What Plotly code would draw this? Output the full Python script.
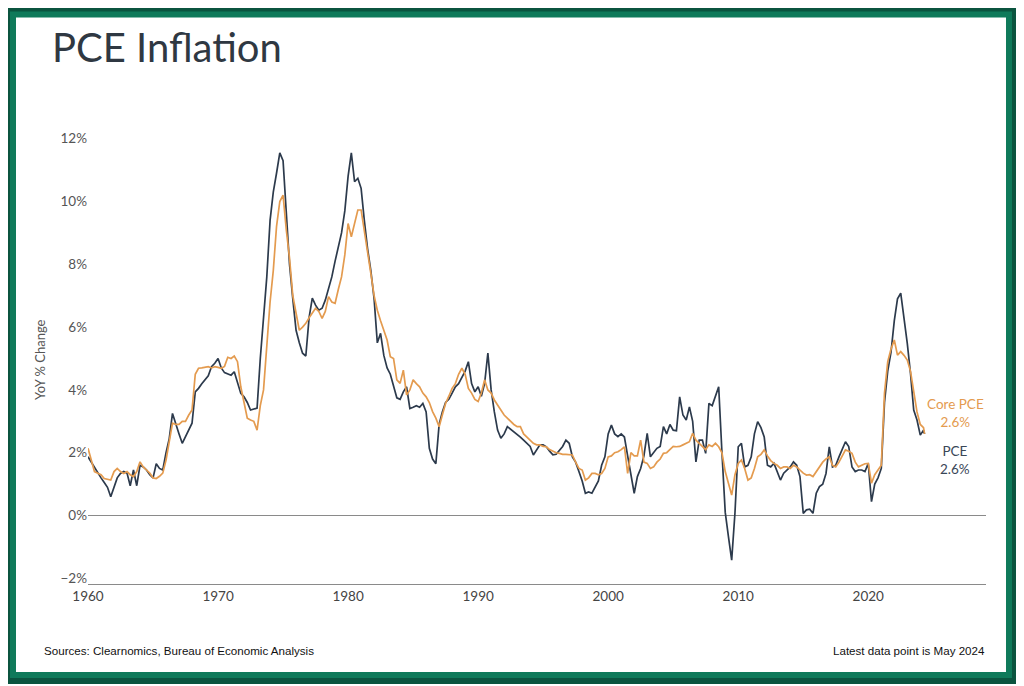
"""PCE vs core PCE inflation, year-over-year, 1960 to May 2024."""

import pandas as pd
import plotly.graph_objects as go

# Quarterly readings (Jan/Apr/Jul/Oct), last value = May 2024
pce = [
    1.87, 1.7, 1.5, 1.35,     # 1960
    1.2, 1.05, 0.9, 0.6,      # 1961
    0.9, 1.2, 1.34, 1.4,      # 1962
    1.35, 0.95, 1.45, 0.95,   # 1963
    1.6, 1.55, 1.45, 1.3,     # 1964
    1.2, 1.65, 1.5, 1.45,     # 1965
    2.0, 2.45, 3.25, 2.9,     # 1966
    2.6, 2.3, 2.5, 2.7,       # 1967
    2.94, 3.94, 4.05, 4.2,    # 1968
    4.32, 4.45, 4.74, 4.85,   # 1969
    5.0, 4.7, 4.55, 4.5,      # 1970
    4.47, 4.58, 4.2, 3.89,    # 1971
    3.78, 3.6, 3.36, 3.4,     # 1972
    3.42, 5.0, 6.2, 7.6,      # 1973
    9.4, 10.3, 10.9, 11.55,   # 1974
    11.3, 9.5, 8.0, 6.9,      # 1975
    5.9, 5.5, 5.17, 5.08,     # 1976
    6.3, 6.92, 6.7, 6.54,     # 1977
    6.6, 6.86, 7.2, 7.6,      # 1978
    8.1, 8.5, 9.0, 9.7,       # 1979
    10.8, 11.55, 10.63, 10.74,  # 1980
    10.42, 9.4, 8.5, 7.8,     # 1981
    6.9, 5.5, 5.8, 5.1,       # 1982
    4.7, 4.5, 4.1, 3.75,      # 1983
    3.7, 3.94, 4.1, 3.41,     # 1984
    3.45, 3.5, 3.45, 3.57,    # 1985
    3.3, 2.14, 1.8, 1.65,     # 1986
    2.9, 3.3, 3.6, 3.7,       # 1987
    3.9, 4.1, 4.2, 4.4,       # 1988
    4.6, 4.9, 4.2, 3.94,      # 1989
    4.1, 3.8, 4.2, 5.17,      # 1990
    4.0, 3.3, 2.72, 2.46,     # 1991
    2.6, 2.83, 2.75, 2.67,    # 1992
    2.6, 2.5, 2.4, 2.3,       # 1993
    2.2, 1.93, 2.1, 2.25,     # 1994
    2.25, 2.19, 2.05, 1.93,   # 1995
    1.95, 2.09, 2.2, 2.4,     # 1996
    2.3, 1.87, 1.7, 1.4,      # 1997
    1.1, 0.71, 0.75, 0.71,    # 1998
    0.9, 1.1, 1.6, 1.87,      # 1999
    2.6, 2.88, 2.6, 2.51,     # 2000
    2.6, 2.5, 1.9, 1.3,       # 2001
    0.71, 1.24, 1.5, 1.9,     # 2002
    2.62, 1.87, 2.0, 2.14,    # 2003
    2.2, 2.83, 2.6, 2.9,      # 2004
    2.72, 2.7, 3.78, 3.2,     # 2005
    3.04, 3.46, 3.0, 1.71,    # 2006
    2.4, 2.4, 1.98, 3.57,     # 2007
    3.5, 3.8, 4.1, 2.0,       # 2008
    0.1, -0.67, -1.42, 0.08,  # 2009
    2.19, 2.3, 1.55, 1.6,     # 2010
    1.87, 2.6, 2.99, 2.8,     # 2011
    2.5, 1.6, 1.55, 1.66,     # 2012
    1.4, 1.13, 1.35, 1.45,    # 2013
    1.55, 1.71, 1.6, 1.24,    # 2014
    0.07, 0.18, 0.2, 0.07,    # 2015
    0.71, 0.92, 1.0, 1.34,    # 2016
    2.19, 1.55, 1.6, 1.87,    # 2017
    2.1, 2.35, 2.2, 1.55,     # 2018
    1.4, 1.45, 1.45, 1.4,     # 2019
    1.66, 0.44, 1.0, 1.2,     # 2020
    1.5, 3.6, 4.6, 5.2,       # 2021
    6.2, 6.9, 7.08, 6.3,      # 2022
    5.48, 4.53, 3.36, 3.04,   # 2023
    2.56, 2.72, 2.6,          # 2024 (Jan, Apr, May)
]

core_pce = [
    2.14, 1.8, 1.4, 1.35,     # 1960
    1.3, 1.18, 1.15, 1.13,    # 1961
    1.4, 1.5, 1.4, 1.34,      # 1962
    1.4, 1.3, 1.24, 1.4,      # 1963
    1.71, 1.55, 1.45, 1.35,   # 1964
    1.2, 1.18, 1.25, 1.35,    # 1965
    1.77, 2.3, 2.94, 2.9,     # 1966
    2.9, 3.0, 3.0, 3.2,       # 1967
    3.36, 4.5, 4.69, 4.7,     # 1968
    4.72, 4.74, 4.7, 4.74,    # 1969
    4.72, 4.69, 4.75, 5.04,   # 1970
    5.0, 5.08, 4.9, 4.1,      # 1971
    3.6, 3.1, 3.04, 3.0,      # 1972
    2.72, 3.5, 4.0, 5.4,      # 1973
    6.8, 7.8, 9.2, 10.0,      # 1974
    10.2, 9.1, 8.2, 7.0,      # 1975
    6.4, 5.9, 6.0, 6.12,      # 1976
    6.3, 6.44, 6.6, 6.5,      # 1977
    6.28, 6.5, 6.97, 6.8,     # 1978
    6.76, 7.2, 7.6, 8.3,      # 1979
    9.3, 8.88, 9.3, 9.73,     # 1980
    9.73, 9.1, 8.4, 7.71,     # 1981
    7.0, 6.54, 6.2, 5.9,      # 1982
    5.59, 5.06, 5.0, 4.32,    # 1983
    4.21, 4.63, 3.84, 4.0,    # 1984
    4.32, 4.2, 4.1, 3.9,      # 1985
    3.78, 3.6, 3.31, 3.1,     # 1986
    2.83, 3.2, 3.57, 3.8,     # 1987
    4.05, 4.2, 4.5, 4.69,     # 1988
    4.5, 4.05, 3.9, 3.7,      # 1989
    3.63, 3.9, 4.32, 4.0,     # 1990
    3.9, 3.68, 3.5, 3.36,     # 1991
    3.2, 3.1, 2.99, 2.9,      # 1992
    2.83, 2.83, 2.6, 2.5,     # 1993
    2.4, 2.3, 2.25, 2.25,     # 1994
    2.2, 2.19, 2.1, 2.05,     # 1995
    2.0, 1.98, 1.95, 1.95,    # 1996
    1.93, 1.93, 1.7, 1.5,     # 1997
    1.45, 1.13, 1.2, 1.34,    # 1998
    1.34, 1.3, 1.34, 1.5,     # 1999
    1.87, 1.9, 2.0, 2.03,     # 2000
    2.1, 2.19, 1.34, 2.0,     # 2001
    1.9, 1.9, 2.4, 1.7,       # 2002
    1.66, 1.5, 1.55, 1.7,     # 2003
    1.8, 1.98, 2.0, 2.1,      # 2004
    2.2, 2.19, 2.2, 2.25,     # 2005
    2.3, 2.35, 2.62, 2.4,     # 2006
    2.3, 2.2, 2.1, 2.25,      # 2007
    2.2, 2.3, 2.19, 2.0,      # 2008
    1.4, 1.03, 0.65, 1.3,     # 2009
    1.66, 1.77, 1.5, 1.13,    # 2010
    1.2, 1.5, 1.87, 1.95,     # 2011
    2.09, 1.9, 1.75, 1.66,    # 2012
    1.6, 1.5, 1.55, 1.55,     # 2013
    1.5, 1.6, 1.55, 1.45,     # 2014
    1.35, 1.29, 1.3, 1.24,    # 2015
    1.4, 1.55, 1.7, 1.8,      # 2016
    1.87, 1.6, 1.55, 1.7,     # 2017
    1.9, 2.09, 2.05, 1.98,    # 2018
    1.7, 1.55, 1.6, 1.65,     # 2019
    1.66, 1.03, 1.3, 1.45,    # 2020
    1.6, 3.9, 4.9, 5.3,       # 2021
    5.59, 5.11, 5.22, 5.1,    # 2022
    4.95, 4.6, 3.89, 3.3,     # 2023
    2.9, 2.8, 2.6,            # 2024 (Jan, Apr, May)
]

dates = list(pd.date_range("1960-01-01", "2024-04-01", freq="QS")) + [pd.Timestamp("2024-05-01")]

year_ticks = [1960, 1970, 1980, 1990, 2000, 2010, 2020]
pct_ticks = [-2, 0, 2, 4, 6, 8, 10, 12]

PCE_COLOR = "#2c3a4c"
CORE_COLOR = "#e49b4f"
DARK_GREEN = "#0b543f"
LIGHT_GREEN = "#0f7a5a"

# the page body adds an 8px margin, so the figure is laid out 8px smaller
OFF = 8
W, H = 1016, 678
L, R, T, B = 80, 38, 115, 102


def px(x_page):
    return (x_page - OFF - L) / (W - L - R)


def py(y_page):
    return (H - B - (y_page - OFF)) / (H - T - B)


fig = go.Figure()
fig.add_trace(go.Scatter(x=dates, y=pce, mode="lines", name="PCE",
                         line=dict(color=PCE_COLOR, width=1.7)))
fig.add_trace(go.Scatter(x=dates, y=core_pce, mode="lines", name="Core PCE",
                         line=dict(color=CORE_COLOR, width=1.7)))

# end-of-line labels
fig.add_annotation(x=px(955), y=py(413), xref="paper", yref="paper",
                   xanchor="center", yanchor="middle",
                   text=f"Core PCE<br>{core_pce[-1]:.1f}%", showarrow=False,
                   font=dict(family="Lato", size=13.5, color=CORE_COLOR), align="center")
fig.add_annotation(x=px(955), y=py(460), xref="paper", yref="paper",
                   xanchor="center", yanchor="middle",
                   text=f"PCE<br>{pce[-1]:.1f}%", showarrow=False,
                   font=dict(family="Lato", size=13.5, color="#3a4757"), align="center")

fig.add_annotation(x=px(40), y=py(360), xref="paper", yref="paper",
                   xanchor="center", yanchor="middle",
                   text="YoY % Change", textangle=-90, showarrow=False,
                   font=dict(family="Lato", size=13, color="#555"))
fig.add_annotation(x=px(42), y=py(650), xref="paper", yref="paper",
                   xanchor="left", yanchor="middle",
                   text="Sources: Clearnomics, Bureau of Economic Analysis", showarrow=False,
                   font=dict(family="Liberation Sans", size=11.6, color="#111"))
fig.add_annotation(x=px(987), y=py(650), xref="paper", yref="paper",
                   xanchor="right", yanchor="middle",
                   text="Latest data point is May 2024", showarrow=False,
                   font=dict(family="Liberation Sans", size=11.6, color="#111"))

# green double frame
fig.add_shape(type="rect", xref="paper", yref="paper",
              x0=px(7.5), x1=px(1015), y0=py(681), y1=py(9),
              line=dict(color=DARK_GREEN, width=6))
fig.add_shape(type="rect", xref="paper", yref="paper",
              x0=px(13), x1=px(1009), y0=py(675), y1=py(14.5),
              line=dict(color=LIGHT_GREEN, width=6))

fig.update_layout(
    width=W, height=H,
    margin=dict(l=L, r=R, t=T, b=B),
    paper_bgcolor="white", plot_bgcolor="white",
    showlegend=False,
    title=dict(text="PCE Inflation", x=(54 - OFF - 2) / W, xanchor="left",
               y=1 - (48 - OFF) / H, yanchor="middle",
               font=dict(family="Lato", size=40, color="#2f3842")),
    xaxis=dict(
        type="date",
        range=["1960-01-01", "2029-01-20"],
        tickvals=[f"{y}-01-01" for y in year_ticks],
        ticktext=[str(y) for y in year_ticks],
        showgrid=False, zeroline=False,
        showline=True, linecolor="#8a8a8a", linewidth=1,
        ticks="", tickfont=dict(family="Lato", size=13.5, color="#444"),
    ),
    yaxis=dict(
        range=[-2.18, 12.5],
        tickvals=pct_ticks,
        ticktext=[f"{v}%".replace("-", "\u2212") for v in pct_ticks],
        showgrid=False, zeroline=True, zerolinecolor="#8a8a8a", zerolinewidth=1,
        showline=False, ticks="",
        tickfont=dict(family="Lato", size=13.5, color="#555"),
    ),
)

fig.write_html("out.html")
